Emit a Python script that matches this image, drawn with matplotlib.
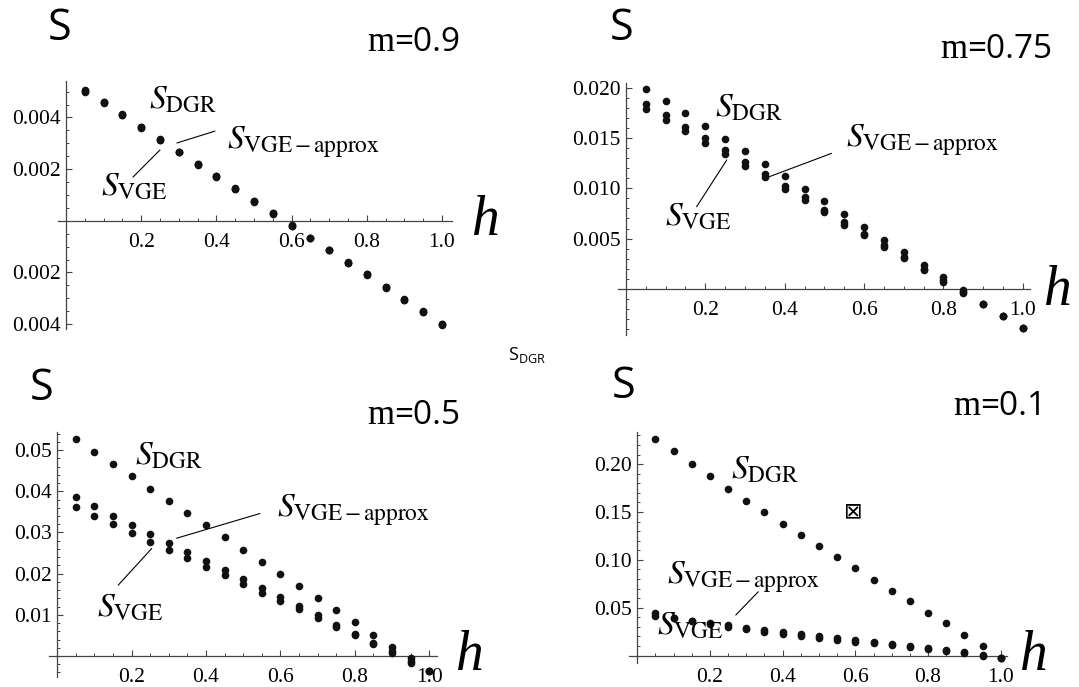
import matplotlib
matplotlib.use("Agg")
import matplotlib.pyplot as plt
from matplotlib.ticker import MultipleLocator

plt.rcParams["mathtext.fontset"] = "stix"
plt.rcParams["font.family"] = ["Liberation Serif", "DejaVu Serif"]

W, H = 1079, 687

h = [0.05, 0.10, 0.15, 0.20, 0.25, 0.30, 0.35, 0.40, 0.45, 0.50,
     0.55, 0.60, 0.65, 0.70, 0.75, 0.80, 0.85, 0.90, 0.95, 1.00]

# m = 0.9
m09_dgr = [0.00506, 0.00461, 0.00412, 0.00364, 0.00315, 0.00267, 0.00219, 0.00173, 0.00125, 0.00076,
           0.00030, -0.00018, -0.00066, -0.00113, -0.00161, -0.00207, -0.00257, -0.00304, -0.00351, -0.00400]
m09_apx = [0.00502, 0.00458, 0.00410, 0.00362, 0.00313, 0.00266, 0.00218, 0.00172, 0.00124, 0.00075,
           0.00029, -0.00019, -0.00067, -0.00114, -0.00162, -0.00208, -0.00258, -0.00305, -0.00352, -0.00401]
m09_vge = [0.00498, 0.00455, 0.00408, 0.00360, 0.00312, 0.00265, 0.00217, 0.00171, 0.00123, 0.00074,
           0.00028, -0.00020, -0.00068, -0.00115, -0.00163, -0.00209, -0.00259, -0.00306, -0.00353, -0.00402]

# m = 0.75
m075_dgr = [0.0199, 0.0187, 0.0175, 0.0162, 0.01495, 0.0137, 0.0124, 0.0112, 0.0099, 0.0087,
            0.0074, 0.0062, 0.0049, 0.00365, 0.0024, 0.0012, -0.0001, -0.00153, -0.00272, -0.00389]
m075_apx = [0.0184, 0.0173, 0.0161, 0.0150, 0.0138, 0.01266, 0.0114, 0.0102, 0.0091, 0.0078,
            0.0066, 0.0055, 0.0044, 0.0032, 0.0020, 0.0009, -0.0003, -0.00155, -0.00273, -0.00390]
m075_vge = [0.0179, 0.0168, 0.0157, 0.01455, 0.0134, 0.0122, 0.0111, 0.0099, 0.0088, 0.0076,
            0.0064, 0.0054, 0.0042, 0.0031, 0.0019, 0.0007, -0.0004, -0.00157, -0.00274, -0.00391]

# m = 0.5
m05_dgr = [0.0526, 0.0496, 0.0466, 0.0436, 0.0406, 0.0377, 0.0347, 0.0317, 0.0288, 0.0258,
           0.0229, 0.0199, 0.0170, 0.0140, 0.0111, 0.0082, 0.0052, 0.0023, -0.0006, -0.0036]
m05_apx = [0.0385, 0.0364, 0.0341, 0.0319, 0.0297, 0.0275, 0.0253, 0.0231, 0.0208, 0.0187,
           0.0164, 0.0144, 0.0121, 0.0099, 0.0075, 0.0053, 0.0032, 0.0011, -0.0013, -0.0036]
m05_vge = [0.0362, 0.0341, 0.0320, 0.0299, 0.0278, 0.0258, 0.0238, 0.0217, 0.0196, 0.0175,
           0.0154, 0.0133, 0.0114, 0.0092, 0.0071, 0.0050, 0.0029, 0.0008, -0.0016, -0.0036]

# m = 0.1
m01_dgr = [0.2268, 0.2136, 0.2003, 0.1871, 0.1742, 0.1617, 0.1498, 0.1376, 0.1258, 0.1143,
           0.1028, 0.0913, 0.0794, 0.0679, 0.0568, 0.0449, 0.0338, 0.0213, 0.0098, -0.0021]
m01_apx = [0.0449, 0.0397, 0.0366, 0.0345, 0.0320, 0.0290, 0.0268, 0.0244, 0.0220, 0.0202,
           0.0181, 0.0164, 0.0143, 0.0122, 0.0098, 0.0077, 0.0059, 0.0035, 0.0007, -0.0021]
m01_vge = [0.0415, 0.0390, 0.0360, 0.0330, 0.0300, 0.0275, 0.0247, 0.0230, 0.0206, 0.0185,
           0.0164, 0.0146, 0.0132, 0.0108, 0.0087, 0.0066, 0.0049, 0.0024, 0.0000, -0.0021]

x_ticks = [0.2, 0.4, 0.6, 0.8, 1.0]
x_tick_labels = ["0.2", "0.4", "0.6", "0.8", "1.0"]

m09_yticks = [-0.004, -0.002, 0.002, 0.004]
m09_ylabels = ["0.004", "0.002", "0.002", "0.004"]
m075_yticks = [0.005, 0.010, 0.015, 0.020]
m075_ylabels = ["0.005", "0.010", "0.015", "0.020"]
m05_yticks = [0.01, 0.02, 0.03, 0.04, 0.05]
m05_ylabels = ["0.01", "0.02", "0.03", "0.04", "0.05"]
m01_yticks = [0.05, 0.10, 0.15, 0.20]
m01_ylabels = ["0.05", "0.10", "0.15", "0.20"]

m_values = ["=0.9", "=0.75", "=0.5", "=0.1"]

lbl_dgr = r"$S_{\mathrm{DGR}}$"
lbl_vge = r"$S_{\mathrm{VGE}}$"
lbl_apx = r"$S_{\mathrm{VGE}\,\mathrm{-}\,\mathrm{approx}}$"

fig = plt.figure(figsize=(W / 100, H / 100), dpi=100)


def make_axes(px_rect, xlim, ylim, yticks, ylabels, yminor):
    l, t, r, b = px_rect
    ax = fig.add_axes([l / W, 1 - b / H, (r - l) / W, (b - t) / H])
    ax.set_xlim(*xlim)
    ax.set_ylim(*ylim)
    for s in ["top", "right"]:
        ax.spines[s].set_visible(False)
    for s in ["left", "bottom"]:
        ax.spines[s].set_position(("data", 0))
        ax.spines[s].set_color("#444444")
        ax.spines[s].set_linewidth(0.9)
    ax.set_xticks(x_ticks)
    ax.set_xticklabels(x_tick_labels)
    ax.set_yticks(yticks)
    ax.set_yticklabels(ylabels)
    ax.xaxis.set_minor_locator(MultipleLocator(0.05))
    ax.yaxis.set_minor_locator(MultipleLocator(yminor))
    ax.tick_params(which="both", direction="in", color="#444444", labelsize=15.5)
    ax.tick_params(which="major", length=4, width=0.8)
    ax.tick_params(which="minor", length=2.5, width=0.7)
    ax.tick_params(axis="x", pad=9)
    ax.tick_params(axis="y", pad=4)
    ax.patch.set_alpha(0)
    return ax


def dots(ax, *series):
    for ys in series:
        ax.plot(h, ys, "o", color="#111111", ms=5.5, mec="none", clip_on=False, zorder=3)


def leader(ax, start, end):
    ax.annotate("", xy=end, xytext=start,
                arrowprops=dict(arrowstyle="-", color="black", lw=0.8, shrinkA=0, shrinkB=0))


def fig_text(px, py, s, **kw):
    return fig.text(px / W, 1 - py / H, s, **kw)


lab_kw = dict(fontsize=24, ha="center", va="center")

# top-left: m = 0.9
ax1 = make_axes((58, 81, 452, 329), (-0.0213, 1.0266), (-0.00419, 0.00541),
                m09_yticks, m09_ylabels, 0.0005)
dots(ax1, m09_dgr, m09_apx, m09_vge)
ax1.text(0.311, 0.00467, lbl_dgr, **lab_kw)
ax1.text(0.428, 0.00305, lbl_apx, fontsize=24, ha="left", va="center")
ax1.text(0.181, 0.00130, lbl_vge, **lab_kw)
leader(ax1, (0.396, 0.00347), (0.295, 0.00301))
leader(ax1, (0.178, 0.00169), (0.250, 0.00274))

# top-right: m = 0.75
ax2 = make_axes((618, 83, 1030, 335), (-0.020, 1.018), (-0.00461, 0.0205),
                m075_yticks, m075_ylabels, 0.001)
dots(ax2, m075_dgr, m075_apx, m075_vge)
ax2.text(0.310, 0.01796, lbl_dgr, **lab_kw)
ax2.text(0.748, 0.01482, lbl_apx, **lab_kw)
ax2.text(0.181, 0.00710, lbl_vge, **lab_kw)
leader(ax2, (0.518, 0.01349), (0.361, 0.01116))
leader(ax2, (0.178, 0.00817), (0.254, 0.01283))

# bottom-left: m = 0.5
ax3 = make_axes((49, 432, 437, 677), (-0.022, 1.021), (-0.0051, 0.0544),
                m05_yticks, m05_ylabels, 0.002)
dots(ax3, m05_dgr, m05_apx, m05_vge)
ax3.text(0.299, 0.0484, lbl_dgr, **lab_kw)
ax3.text(0.797, 0.0353, lbl_apx, **lab_kw)
ax3.text(0.196, 0.01165, lbl_vge, **lab_kw)
leader(ax3, (0.545, 0.0346), (0.321, 0.0286))
leader(ax3, (0.164, 0.0172), (0.254, 0.0261))

# bottom-right: m = 0.1
ax4 = make_axes((629, 432, 1007, 663), (-0.0226, 1.017), (-0.0078, 0.2336),
                m01_yticks, m01_ylabels, 0.01)
dots(ax4, m01_dgr, m01_apx, m01_vge)
ax4.text(0.352, 0.1939, lbl_dgr, **lab_kw)
ax4.text(0.291, 0.0815, lbl_apx, **lab_kw)
ax4.text(0.147, 0.0308, lbl_vge, **lab_kw)
leader(ax4, (0.333, 0.0667), (0.271, 0.0423))
ax4.text(0.595, 0.1505, "\u22a0", fontsize=16, ha="center", va="center",
         family="DejaVu Sans")

# big "S" at the top of each y axis
s_kw = dict(fontsize=31, family="Open Sans", ha="center", va="baseline")
for px, py in [(60, 40), (622, 40), (42, 400), (624, 398)]:
    fig_text(px, py, "S", **s_kw)

# big italic "h" at the end of each x axis
h_kw = dict(fontsize=40, style="italic", ha="center", va="baseline")
for px, py in [(486, 235), (1058, 305), (470, 670), (1034, 670)]:
    fig_text(px, py, "h", **h_kw)

# m labels: serif "m" followed by sans "=value"
for (px, py), val in zip([(367, 51), (940, 58), (367, 424), (953, 415)], m_values):
    tm = fig_text(px, py, "m", fontsize=25, ha="left", va="baseline")
    fig.text(0, 0, "")
    plt.annotate(val, xy=(1, 0), xycoords=tm, fontsize=24, family="Open Sans",
                 ha="left", va="bottom", annotation_clip=False)

# stray small label between the panels
fig_text(508, 360, r"$\mathregular{S_{DGR}}$", fontsize=13, family="Open Sans",
         ha="left", va="baseline")

fig.savefig("out.png", dpi=100)
